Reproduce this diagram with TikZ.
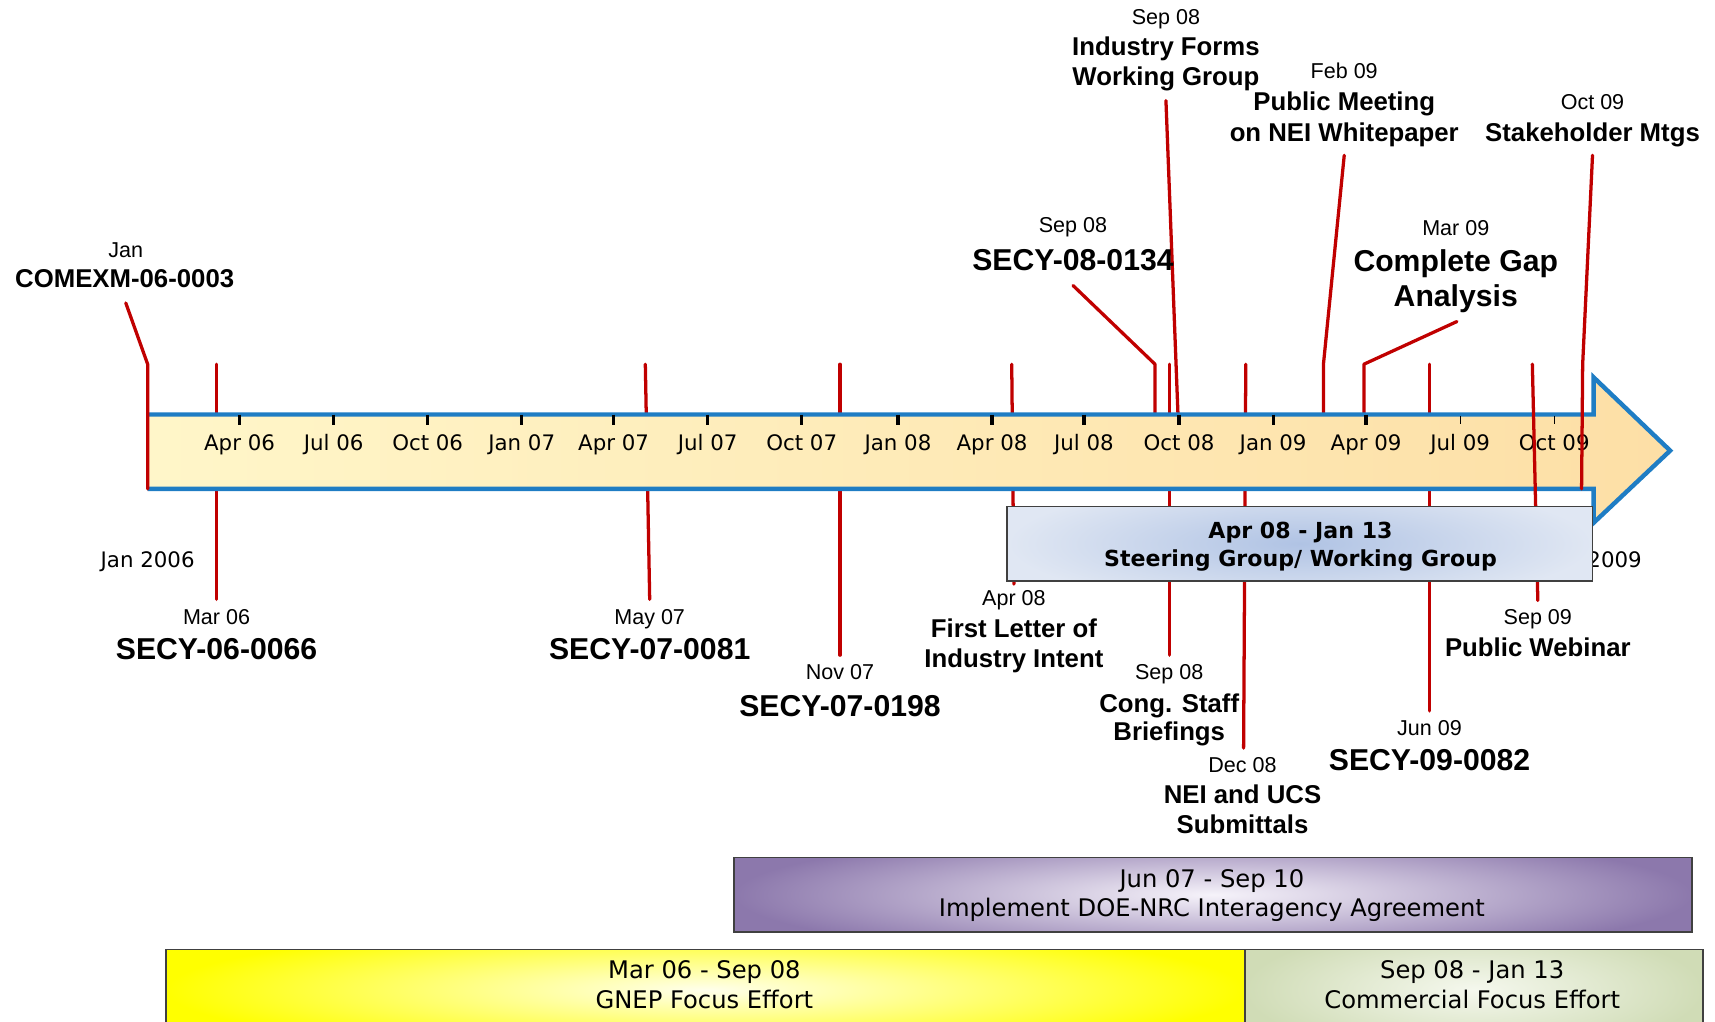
\documentclass[tikz,border=0pt]{standalone}
\usepackage{fontspec}
\setmainfont{Liberation Sans}
\newfontfamily\comicfont{DejaVu Sans}

\definecolor{markred}{RGB}{192,0,0}
\definecolor{axisblue}{RGB}{31,125,196}
\definecolor{axislight}{RGB}{255,246,201}
\definecolor{axispeach}{RGB}{253,223,166}
\definecolor{steerin}{RGB}{176,195,228}
\definecolor{steerout}{RGB}{224,231,243}
\definecolor{purpout}{RGB}{140,120,172}
\definecolor{purpin}{RGB}{246,243,250}
\definecolor{gnepout}{RGB}{255,255,0}
\definecolor{gnepin}{RGB}{255,255,236}
\definecolor{commout}{RGB}{208,220,182}
\definecolor{commin}{RGB}{245,248,238}

\tikzset{
  marker/.style={markred, line width=1.7pt, line cap=round, line join=round},
  datelbl/.style={anchor=base, inner sep=0pt, font=\fontsize{11.2}{13}\selectfont},
  midlbl/.style={anchor=base, inner sep=0pt, font=\bfseries\fontsize{13.4}{16}\selectfont},
  biglbl/.style={anchor=base, inner sep=0pt, font=\bfseries\fontsize{15.7}{18}\selectfont},
  ticklbl/.style={anchor=base, inner sep=0pt, font=\comicfont\fontsize{11.1}{13}\selectfont},
  steerlbl/.style={anchor=base, inner sep=0pt, font=\comicfont\bfseries\fontsize{11.5}{14}\selectfont},
  barlbl/.style={anchor=base, inner sep=0pt, font=\comicfont\fontsize{12.6}{15}\selectfont},
  barbox/.style={draw=black!75, line width=0.9pt}
}

\begin{document}
\begin{tikzpicture}[x=0.2mm,y=-0.2mm]
\useasboundingbox (0,0) rectangle (1568,934);
\clip (0,0) rectangle (1568,934);
% Stem end points
\coordinate (jan06-top) at (115,277);
\coordinate (jan06-bend) at (135,333);
\coordinate (jan06-foot) at (135,447);
\coordinate (mar06-top) at (198,333);
\coordinate (mar06-foot) at (198,548);
\coordinate (may07-top) at (590,333);
\coordinate (may07-foot) at (594,548);
\coordinate (nov07-top) at (768,333);
\coordinate (nov07-foot) at (768,599);
\coordinate (apr08-top) at (925,333);
\coordinate (apr08-foot) at (927,534);
\coordinate (sep08a-top) at (981,261);
\coordinate (sep08a-bend) at (1056,333);
\coordinate (sep08a-foot) at (1056,379);
\coordinate (sep08b-top) at (1066,92);
\coordinate (sep08b-foot) at (1077,379);
\coordinate (sep08c-top) at (1069,333);
\coordinate (sep08c-foot) at (1069,599);
\coordinate (dec08-top) at (1139,333);
\coordinate (dec08-foot) at (1137,684);
\coordinate (feb09-top) at (1229,142);
\coordinate (feb09-bend) at (1210,333);
\coordinate (feb09-foot) at (1210,379);
\coordinate (mar09-top) at (1332,294);
\coordinate (mar09-bend) at (1247,333);
\coordinate (mar09-foot) at (1247,379);
\coordinate (jun09-top) at (1307,333);
\coordinate (jun09-foot) at (1307,650);
\coordinate (sep09-top) at (1401,333);
\coordinate (sep09-foot) at (1406,549);
\coordinate (oct09-top) at (1456,142);
\coordinate (oct09-bend) at (1447,333);
\coordinate (oct09-foot) at (1446,447);
% Stems behind the arrow
\draw[marker] (mar06-top) -- (mar06-foot);
\draw[marker] (may07-top) -- (may07-foot);
\draw[marker] (nov07-top) -- (nov07-foot);
\draw[marker] (apr08-top) -- (apr08-foot);
\draw[marker] (sep08a-top) -- (sep08a-bend) -- (sep08a-foot);
\draw[marker] (sep08b-top) -- (sep08b-foot);
\draw[marker] (sep08c-top) -- (sep08c-foot);
\draw[marker] (dec08-top) -- (dec08-foot);
\draw[marker] (feb09-top) -- (feb09-bend) -- (feb09-foot);
\draw[marker] (mar09-top) -- (mar09-bend) -- (mar09-foot);
\draw[marker] (jun09-top) -- (jun09-foot);
% Time arrow
\fill[left color=axislight, right color=axispeach] (135,379) -- (1457,379) -- (1457,345)
  -- (1527,412) -- (1457,478) -- (1457,447) -- (135,447) -- cycle;
\draw[axisblue, line width=2.3pt] (135,379) -- (1457,379) -- (1457,345)
  -- (1527,412) -- (1457,478) -- (1457,447) -- (135,447);
% Quarter ticks
\foreach \tx/\tl in {219/Apr 06, 305/Jul 06, 391/Oct 06, 477/Jan 07, 561/Apr 07,
  647/Jul 07, 733/Oct 07, 821/Jan 08, 907/Apr 08, 991/Jul 08, 1078/Oct 08,
  1164/Jan 09, 1249/Apr 09} {
  \draw[line width=1.7pt] (\tx,379) -- (\tx,389);
  \node[ticklbl] (tick\tx) at (\tx,412) {\tl};
}
\foreach \tx/\tl in {1335/Jul 09, 1421/Oct 09} {
  \draw[line width=0.5pt] (\tx,380) -- (\tx,388);
  \node[ticklbl] (tick\tx) at (\tx,412) {\tl};
}
\node[ticklbl] (jan06-axis) at (135,519) {Jan 2006};
\node[ticklbl, anchor=base west] (dec09-axis) at (1451,519) {2009};
% Stems over the arrow
\draw[marker] (jan06-top) -- (jan06-bend) -- (jan06-foot);
\draw[marker] (sep09-top) -- (sep09-foot);
\draw[marker] (oct09-top) -- (oct09-bend) -- (oct09-foot);
% Steering group
\begin{scope}
\clip (921,463) rectangle (1456,531);
\shade[inner color=steerin, outer color=steerout] (921,440) rectangle (1456,554);
\end{scope}
\draw[barbox] (921,463) rectangle (1456,531);
\node[steerlbl] (steer-date) at (1189,492) {Apr 08 - Jan 13};
\node[steerlbl] (steer-name) at (1189,518) {Steering Group/ Working Group};
% Event labels
\node[datelbl] (jan06-date) at (115,235) {Jan};
\node[midlbl] (jan06-name) at (114,263) {COMEXM-06-0003};
\node[datelbl] (mar06-date) at (198,571) {Mar 06};
\node[biglbl] (mar06-name) at (198,603) {SECY-06-0066};
\node[datelbl] (may07-date) at (594,571) {May 07};
\node[biglbl] (may07-name) at (594,603) {SECY-07-0081};
\node[datelbl] (nov07-date) at (768,621) {Nov 07};
\node[biglbl] (nov07-name) at (768,655) {SECY-07-0198};
\node[datelbl] (apr08-date) at (927,554) {Apr 08};
\node[midlbl] (apr08-name) at (927,583) {First Letter of};
\node[midlbl] (apr08-more) at (927,610) {Industry Intent};
\node[datelbl] (sep08a-date) at (981,213) {Sep 08};
\node[biglbl] (sep08a-name) at (981,247) {SECY-08-0134};
\node[datelbl] (sep08b-date) at (1066,22) {Sep 08};
\node[midlbl] (sep08b-name) at (1066,51) {Industry Forms};
\node[midlbl] (sep08b-more) at (1066,78) {Working Group};
\node[datelbl] (sep08c-date) at (1069,621) {Sep 08};
\node[midlbl] (sep08c-name) at (1069,651) {Cong. Staff};
\node[midlbl] (sep08c-more) at (1069,677) {Briefings};
\node[datelbl] (dec08-date) at (1136,706) {Dec 08};
\node[midlbl] (dec08-name) at (1136,735) {NEI and UCS};
\node[midlbl] (dec08-more) at (1136,762) {Submittals};
\node[datelbl] (feb09-date) at (1229,72) {Feb 09};
\node[midlbl] (feb09-name) at (1229,101) {Public Meeting};
\node[midlbl] (feb09-more) at (1229,129) {on NEI Whitepaper};
\node[datelbl] (mar09-date) at (1331,215) {Mar 09};
\node[biglbl] (mar09-name) at (1331,248) {Complete Gap};
\node[biglbl] (mar09-more) at (1331,280) {Analysis};
\node[datelbl] (jun09-date) at (1307,672) {Jun 09};
\node[biglbl] (jun09-name) at (1307,704) {SECY-09-0082};
\node[datelbl] (sep09-date) at (1406,571) {Sep 09};
\node[midlbl] (sep09-name) at (1406,600) {Public Webinar};
\node[datelbl] (oct09-date) at (1456,100) {Oct 09};
\node[midlbl] (oct09-name) at (1456,129) {Stakeholder Mtgs};
% Interagency agreement
\begin{scope}
\clip (671,784) rectangle (1547,852);
\shade[inner color=purpin, outer color=purpout] (671,760) rectangle (1547,876);
\end{scope}
\draw[barbox] (671,784) rectangle (1547,852);
\node[barlbl] (doe-date) at (1108,811) {Jun 07 - Sep 10};
\node[barlbl] (doe-name) at (1108,838) {Implement DOE-NRC Interagency Agreement};
% Focus efforts
\begin{scope}
\clip (152,868) rectangle (1557,950);
\shade[inner color=gnepin, outer color=gnepout] (152,845) rectangle (1138,965);
\shade[inner color=commin, outer color=commout] (1138,845) rectangle (1557,965);
\end{scope}
\draw[barbox] (152,868) rectangle (1138,950);
\draw[barbox] (1138,868) rectangle (1557,950);
\node[barlbl] (gnep-date) at (644,895) {Mar 06 - Sep 08};
\node[barlbl] (gnep-name) at (644,922) {GNEP Focus Effort};
\node[barlbl] (comm-date) at (1346,895) {Sep 08 - Jan 13};
\node[barlbl] (comm-name) at (1346,922) {Commercial Focus Effort};
\end{tikzpicture}
\end{document}
